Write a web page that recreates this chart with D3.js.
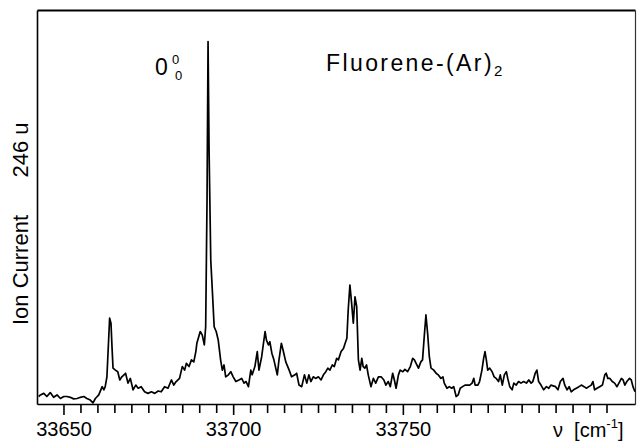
<!DOCTYPE html>
<html>
<head>
<meta charset="utf-8">
<script src="https://cdn.jsdelivr.net/npm/d3@7"></script>
<style>
body { margin: 0; background: #fff; overflow: hidden; }
text { font-family: "Liberation Sans", Arial, sans-serif; fill: #000; }
</style>
</head>
<body>
<script>
const width = 640;
const height = 442;

// spectrum: wavenumber (cm-1) and ion current (arb. units, 0-100)
const wavenumber = [
  33642.7, 33643.2, 33644.2, 33645.1, 33646.1, 33647.1, 33648.1, 33649.1, 33650.1, 33651.0,
  33652.0, 33653.0, 33654.0, 33655.0, 33656.0, 33656.9, 33657.9, 33658.7, 33659.4, 33660.4,
  33661.4, 33661.9, 33662.3, 33662.8, 33663.3, 33663.6, 33664.0, 33664.3, 33664.6, 33665.3,
  33666.0, 33666.6, 33667.2, 33668.3, 33669.0, 33669.7, 33670.5, 33671.3, 33672.0, 33672.9,
  33673.9, 33674.9, 33675.9, 33676.9, 33677.9, 33678.8, 33679.8, 33680.8, 33681.8, 33682.5,
  33683.2, 33684.2, 33685.0, 33685.7, 33686.2, 33687.0, 33687.7, 33688.4, 33689.0, 33689.3,
  33690.3, 33690.9, 33691.5, 33691.9, 33692.3, 33692.6, 33692.9, 33693.4, 33693.9, 33694.4,
  33695.0, 33695.6, 33696.3, 33696.8, 33697.3, 33697.8, 33698.6, 33699.3, 33700.0, 33700.8,
  33701.7, 33702.5, 33703.2, 33703.8, 33704.5, 33705.2, 33705.6, 33706.4, 33707.1, 33707.6,
  33708.4, 33709.4, 33709.8, 33710.4, 33710.8, 33711.4, 33712.0, 33713.0, 33713.5, 33714.2,
  33714.7, 33715.5, 33716.5, 33717.2, 33718.2, 33718.7, 33719.4, 33720.2, 33721.0, 33721.7,
  33722.3, 33722.9, 33723.6, 33724.3, 33725.1, 33725.9, 33726.6, 33727.3, 33727.9, 33728.5,
  33729.2, 33729.8, 33730.5, 33731.0, 33731.8, 33732.5, 33733.0, 33733.5, 33733.9, 33734.4,
  33734.9, 33735.4, 33735.9, 33736.4, 33736.9, 33737.4, 33737.9, 33738.3, 33738.8, 33739.3,
  33739.8, 33740.6, 33741.3, 33742.0, 33742.8, 33743.6, 33744.4, 33745.0, 33745.7, 33746.3,
  33747.0, 33747.5, 33748.0, 33748.7, 33749.2, 33750.0, 33750.6, 33751.4, 33752.2, 33752.9,
  33753.4, 33753.9, 33754.6, 33755.3, 33755.8, 33756.3, 33756.8, 33757.3, 33757.8, 33758.3,
  33759.1, 33759.8, 33760.4, 33761.2, 33761.8, 33762.2, 33763.0, 33763.7, 33764.4, 33765.0,
  33765.7, 33766.3, 33766.9, 33767.6, 33768.3, 33769.7, 33770.4, 33770.9, 33771.3, 33772.1,
  33772.6, 33773.3, 33773.8, 33774.2, 33774.6, 33775.0, 33775.6, 33776.3, 33776.9, 33777.5,
  33778.2, 33778.7, 33779.3, 33779.9, 33780.5, 33780.9, 33781.5, 33782.2, 33782.7, 33783.4,
  33784.1, 33784.8, 33785.6, 33786.4, 33787.1, 33787.8, 33788.3, 33789.0, 33789.5, 33790.0,
  33790.7, 33791.5, 33792.3, 33793.0, 33793.6, 33795.0, 33795.7, 33796.4, 33797.2, 33797.7,
  33798.4, 33799.0, 33799.6, 33800.3, 33801.1, 33801.9, 33802.6, 33803.4, 33804.1, 33804.8,
  33805.5, 33806.0, 33806.5, 33807.2, 33808.0, 33808.8, 33809.5, 33809.9, 33810.4, 33811.0,
  33811.7, 33812.4, 33813.1, 33813.9, 33814.4, 33814.9, 33815.4, 33816.0, 33816.8, 33817.3,
  33817.8, 33818.4
];
const ionCurrent = [
  1.9, 2.3, 2.7, 1.9, 2.9, 1.7, 2.3, 1.4, 1.9, 1.9,
  1.7, 1.3, 1.4, 1.7, 1.9, 1.4, 1.0, 0.3, 1.4, 2.3,
  4.4, 3.6, 4.4, 6.9, 16.2, 21.8, 20.5, 14.5, 9.1, 8.6,
  8.2, 6.1, 6.9, 7.8, 5.3, 6.5, 3.6, 4.8, 4.0, 4.4,
  3.1, 2.7, 3.1, 2.7, 3.3, 3.1, 4.4, 4.0, 6.1, 4.8,
  5.7, 6.5, 9.5, 8.6, 10.3, 9.5, 11.2, 10.7, 13.3, 15.4,
  18.4, 17.5, 15.0, 19.6, 51.8, 92.0, 64.5, 36.5, 28.2, 19.6,
  18.4, 16.2, 11.2, 8.6, 9.9, 6.9, 7.4, 8.2, 6.9, 5.7,
  6.1, 6.5, 5.3, 5.7, 4.4, 8.6, 7.4, 9.5, 13.3, 8.6,
  12.0, 18.4, 16.2, 15.0, 15.8, 12.9, 11.2, 7.4, 11.2, 15.4,
  13.7, 10.7, 8.6, 6.9, 7.4, 7.8, 4.8, 4.4, 7.4, 5.3,
  7.4, 5.7, 6.9, 6.5, 6.9, 6.1, 7.4, 8.2, 9.1, 8.6,
  9.9, 9.5, 11.6, 11.2, 13.3, 14.1, 15.4, 16.7, 23.9, 30.2,
  25.6, 20.5, 27.2, 24.7, 11.2, 8.6, 11.6, 9.5, 9.1, 9.9,
  7.4, 4.4, 6.5, 5.3, 6.9, 6.9, 6.1, 4.8, 5.7, 4.4,
  7.8, 6.1, 4.0, 7.4, 8.6, 8.2, 8.8, 8.2, 9.5, 11.6,
  11.2, 10.3, 9.1, 10.7, 11.2, 17.1, 22.6, 17.9, 12.0, 9.1,
  8.6, 7.8, 7.4, 6.5, 6.9, 5.3, 4.0, 4.4, 4.0, 4.4,
  1.9, 2.3, 4.0, 4.4, 4.8, 4.8, 5.3, 6.5, 4.8, 4.8,
  5.7, 8.6, 11.6, 13.3, 11.2, 8.6, 9.1, 8.2, 6.9, 6.5,
  5.7, 7.4, 4.8, 7.4, 8.2, 6.5, 4.4, 3.6, 5.3, 4.8,
  5.7, 5.3, 5.7, 5.3, 6.1, 5.3, 5.7, 7.8, 8.6, 5.7,
  4.8, 3.6, 4.4, 4.0, 4.8, 4.4, 3.6, 5.7, 6.5, 4.8,
  3.6, 4.4, 3.1, 3.6, 4.0, 4.4, 4.8, 4.4, 4.0, 4.4,
  4.8, 5.7, 3.6, 4.0, 4.4, 4.8, 7.4, 7.8, 6.5, 6.5,
  5.7, 5.3, 4.4, 5.7, 6.5, 6.1, 4.8, 5.7, 6.5, 6.1,
  4.4, 3.1
];

const majorTicks = [33650, 33700, 33750];
const minorTicks = [
  33655, 33660, 33665, 33670, 33675, 33680, 33685, 33690, 33695,
  33705, 33710, 33715, 33720, 33725, 33730, 33735, 33740, 33745,
  33755, 33760, 33765, 33770, 33775, 33780, 33785, 33790, 33795,
  33800, 33805, 33810
];

const data = wavenumber.map((v, i) => ({ v: v, c: ionCurrent[i] }));

const svg = d3.select("body")
  .append("svg")
  .attr("width", width)
  .attr("height", height);

const x = d3.scaleLinear().domain([33642.2, 33818.4]).range([37, 635]);
const y = d3.scaleLinear().domain([0, 100]).range([404, 10]);

// frame: left, top, right without ticks
svg.append("g")
  .attr("transform", `translate(${x.range()[0]},0)`)
  .call(d3.axisLeft(y).tickValues([]).tickSizeOuter(0))
  .select(".domain").attr("stroke-width", 1.6);

svg.append("g")
  .attr("transform", `translate(0,${y(100)})`)
  .call(d3.axisTop(x).tickValues([]).tickSizeOuter(0))
  .select(".domain").attr("stroke-width", 2);

svg.append("g")
  .attr("transform", `translate(${x.range()[1]},0)`)
  .call(d3.axisRight(y).tickValues([]).tickSizeOuter(0))
  .select(".domain").attr("stroke", "#333").attr("stroke-width", 1.2);

// bottom axis: minor ticks then labelled ticks
const xMinor = svg.append("g")
  .attr("transform", `translate(0,${y(0)})`)
  .call(d3.axisBottom(x).tickValues(minorTicks).tickSize(9).tickSizeOuter(0).tickFormat(""));
xMinor.select(".domain").attr("stroke-width", 1.6);
xMinor.selectAll(".tick line").attr("stroke-width", 1.6);

const xMajor = svg.append("g")
  .attr("transform", `translate(0,${y(0)})`)
  .call(d3.axisBottom(x).tickValues(majorTicks).tickSize(11).tickSizeOuter(0).tickFormat(d3.format("d")));
xMajor.select(".domain").remove();
xMajor.selectAll(".tick line").attr("stroke-width", 1.6);
xMajor.selectAll(".tick text")
  .attr("y", 32)
  .attr("dy", 0)
  .attr("font-size", 20)
  .attr("font-family", "Liberation Sans, Arial, sans-serif")
  .attr("fill", "#000");

// spectrum
const line = d3.line()
  .x(d => x(d.v))
  .y(d => y(d.c));

svg.append("path")
  .datum(data)
  .attr("fill", "none")
  .attr("stroke", "#000")
  .attr("stroke-width", 1.7)
  .attr("stroke-linejoin", "round")
  .attr("d", line);

// axis titles
const xTitle = svg.append("text")
  .attr("x", 553)
  .attr("y", 437)
  .attr("font-size", 20);
xTitle.append("tspan").text("\u03bd\u00a0\u00a0[cm");
xTitle.append("tspan").attr("font-size", 13).attr("dy", -9).text("-1");
xTitle.append("tspan").attr("dy", 9).text("]");

svg.append("text")
  .attr("transform", "translate(28,270) rotate(-90)")
  .attr("text-anchor", "middle")
  .attr("font-size", 22)
  .text("Ion Current");

svg.append("text")
  .attr("transform", "translate(28,150) rotate(-90)")
  .attr("text-anchor", "middle")
  .attr("font-size", 22)
  .text("246 u");

// annotations: 0 with stacked super/subscript 0
svg.append("text")
  .attr("x", 155)
  .attr("y", 75)
  .attr("font-size", 23)
  .text("0");
svg.append("text")
  .attr("x", 172)
  .attr("y", 64)
  .attr("font-size", 13)
  .text("0");
svg.append("text")
  .attr("x", 175)
  .attr("y", 80)
  .attr("font-size", 13)
  .text("0");

const title = svg.append("text")
  .attr("x", 326)
  .attr("y", 71)
  .attr("font-size", 23);
title.append("tspan").attr("letter-spacing", 2.4).text("Fluorene-(Ar)");
title.append("tspan").attr("font-size", 15).attr("dy", 5).text("2");
</script>
</body>
</html>
